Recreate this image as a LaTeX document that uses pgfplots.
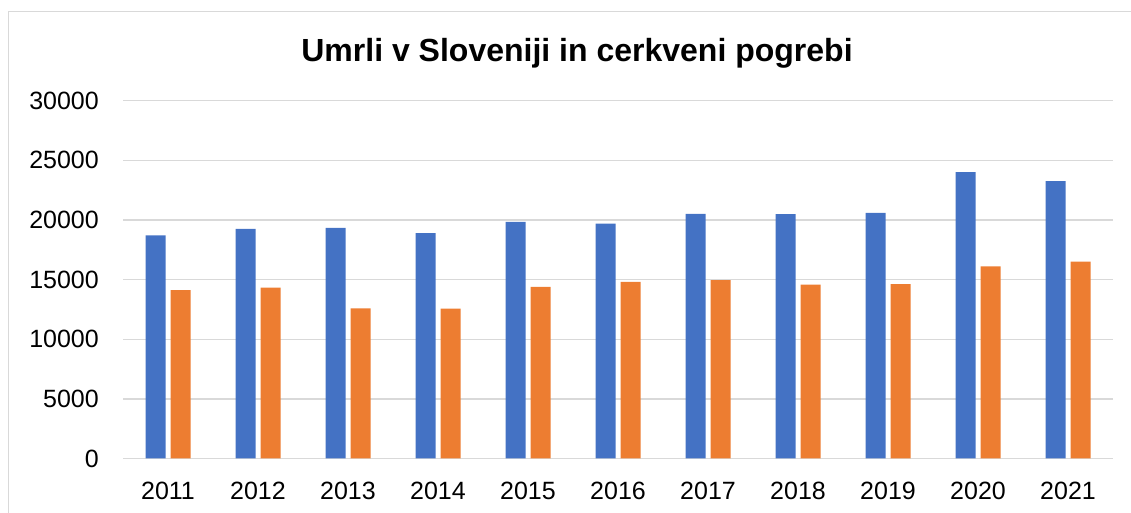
\documentclass[border=0pt]{standalone}
\usepackage{fontspec}
\setmainfont{Liberation Sans}
\usepackage{pgfplots}
\pgfplotsset{compat=1.18}
\definecolor{gridgray}{HTML}{D9D9D9}
\definecolor{xlblue}{HTML}{4472C4}
\definecolor{xlorange}{HTML}{ED7D31}
\begin{document}
\begin{tikzpicture}
\path[use as bounding box] (0,0) rectangle (1131pt,513pt);
\draw[gridgray, line width=1pt] (8.5pt,-10pt) rectangle (1150pt,501.5pt);
\node[anchor=base, font=\fontsize{32}{38}\selectfont\bfseries] at (577pt,451pt) {Umrli v Sloveniji in cerkveni pogrebi};
\begin{axis}[
  at={(123pt,54.5pt)}, anchor=south west,
  scale only axis, width=990pt, height=357.8pt,
  ybar, bar width=20pt, ybar=5pt,
  xmin=-0.5, xmax=10.5, ymin=0, ymax=30000,
  xtick={0,...,10},
  xticklabels={2011,2012,2013,2014,2015,2016,2017,2018,2019,2020,2021},
  ytick={0,5000,...,30000},
  ymajorgrids, grid style={gridgray, line width=1.3pt},
  axis line style={draw=none},
  major tick length=0pt,
  tick label style={font=\fontsize{25}{30}\selectfont, inner sep=0pt},
  xticklabel shift=23pt,
  yticklabel shift=24pt,
  /pgf/number format/assume math mode=true,
  /pgf/number format/1000 sep={},
  scaled y ticks=false,
]
\addplot[fill=xlblue, draw=none] coordinates {
(0,18699)(1,19257)(2,19327)(3,18886)(4,19834)(5,19689)(6,20509)(7,20485)(8,20588)(9,24016)(10,23256)};
\addplot[fill=xlorange, draw=none] coordinates {
(0,14120)(1,14320)(2,12590)(3,12560)(4,14380)(5,14800)(6,14960)(7,14570)(8,14630)(9,16110)(10,16500)};
\end{axis}
\end{tikzpicture}
\end{document}
